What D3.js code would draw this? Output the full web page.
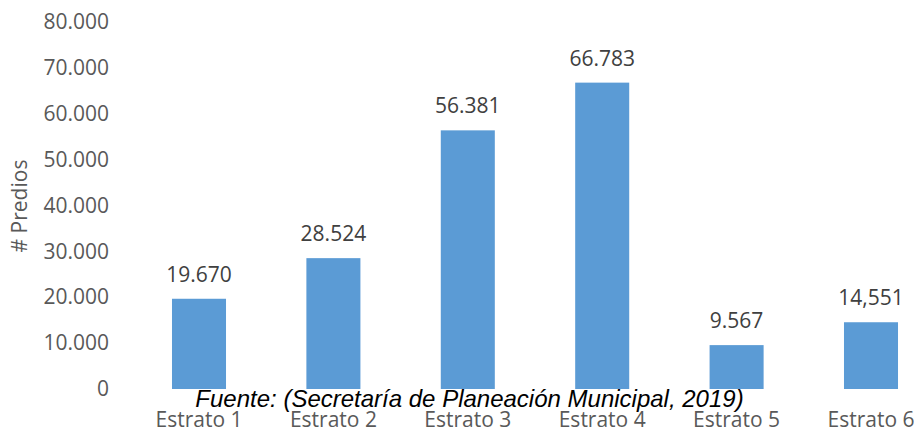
<!DOCTYPE html>
<html>
<head>
<meta charset="utf-8">
<script src="https://cdn.jsdelivr.net/npm/d3@7"></script>
<style>
  html, body { margin: 0; padding: 0; background: #fff; }
  svg { display: block; }
</style>
</head>
<body>
<div id="chart"></div>
<script>
var categories = ["Estrato 1", "Estrato 2", "Estrato 3", "Estrato 4", "Estrato 5", "Estrato 6"];
var values = [19670, 28524, 56381, 66783, 9567, 14551];
var valueLabels = ["19.670", "28.524", "56.381", "66.783", "9.567", "14,551"];
var yTicks = [0, 10000, 20000, 30000, 40000, 50000, 60000, 70000, 80000];
var yTitle = "# Predios";
var sourceNote = "Fuente: (Secretaría de Planeación Municipal, 2019)";

var width = 914, height = 430;
var svg = d3.select("#chart").append("svg")
    .attr("width", width)
    .attr("height", height);

var x = d3.scaleBand()
    .domain(categories)
    .range([131.8, 938.2])
    .paddingInner(0.598)
    .paddingOuter(0.299);

var y = d3.scaleLinear()
    .domain([0, 80000])
    .range([389, 22]);

// thousands with a dot, like the original
function fmt(d) {
    return d === 0 ? "0" : d3.format(",")(d).replace(/,/g, ".");
}

var yAxis = svg.append("g")
    .attr("transform", "translate(109,0)")
    .call(d3.axisLeft(y).tickValues(yTicks).tickSize(0).tickPadding(0).tickFormat(fmt));
yAxis.select(".domain").remove();
yAxis.selectAll("text")
    .attr("font-family", "'Open Sans', sans-serif")
    .attr("font-size", 21)
    .attr("fill", "#595959");

svg.append("text")
    .attr("transform", "translate(27,206) rotate(-90)")
    .attr("text-anchor", "middle")
    .attr("font-family", "'Open Sans', sans-serif")
    .attr("font-size", 21)
    .attr("fill", "#595959")
    .text(yTitle);

svg.append("g").selectAll("rect")
    .data(values)
    .join("rect")
    .attr("x", function(d, i) { return x(categories[i]); })
    .attr("y", function(d) { return y(d); })
    .attr("width", x.bandwidth())
    .attr("height", function(d) { return y(0) - y(d); })
    .attr("fill", "#5B9BD5");

svg.append("g").selectAll("text")
    .data(values)
    .join("text")
    .attr("x", function(d, i) { return x(categories[i]) + x.bandwidth() / 2; })
    .attr("y", function(d) { return y(d) - 17; })
    .attr("text-anchor", "middle")
    .attr("font-family", "'Open Sans', sans-serif")
    .attr("font-size", 21)
    .attr("fill", "#404040")
    .text(function(d, i) { return valueLabels[i]; });

var xAxis = svg.append("g")
    .attr("transform", "translate(0,389)")
    .call(d3.axisBottom(x).tickSize(0).tickPadding(0));
xAxis.select(".domain").remove();
xAxis.selectAll("text")
    .attr("dy", null)
    .attr("y", 38)
    .attr("font-family", "'Open Sans', sans-serif")
    .attr("font-size", 21)
    .attr("fill", "#595959");

svg.append("text")
    .attr("x", 469.5)
    .attr("y", 407)
    .attr("text-anchor", "middle")
    .attr("font-family", "'Liberation Sans', Arial, sans-serif")
    .attr("font-style", "italic")
    .attr("font-size", 24)
    .attr("fill", "#000")
    .text(sourceNote);
</script>
</body>
</html>
